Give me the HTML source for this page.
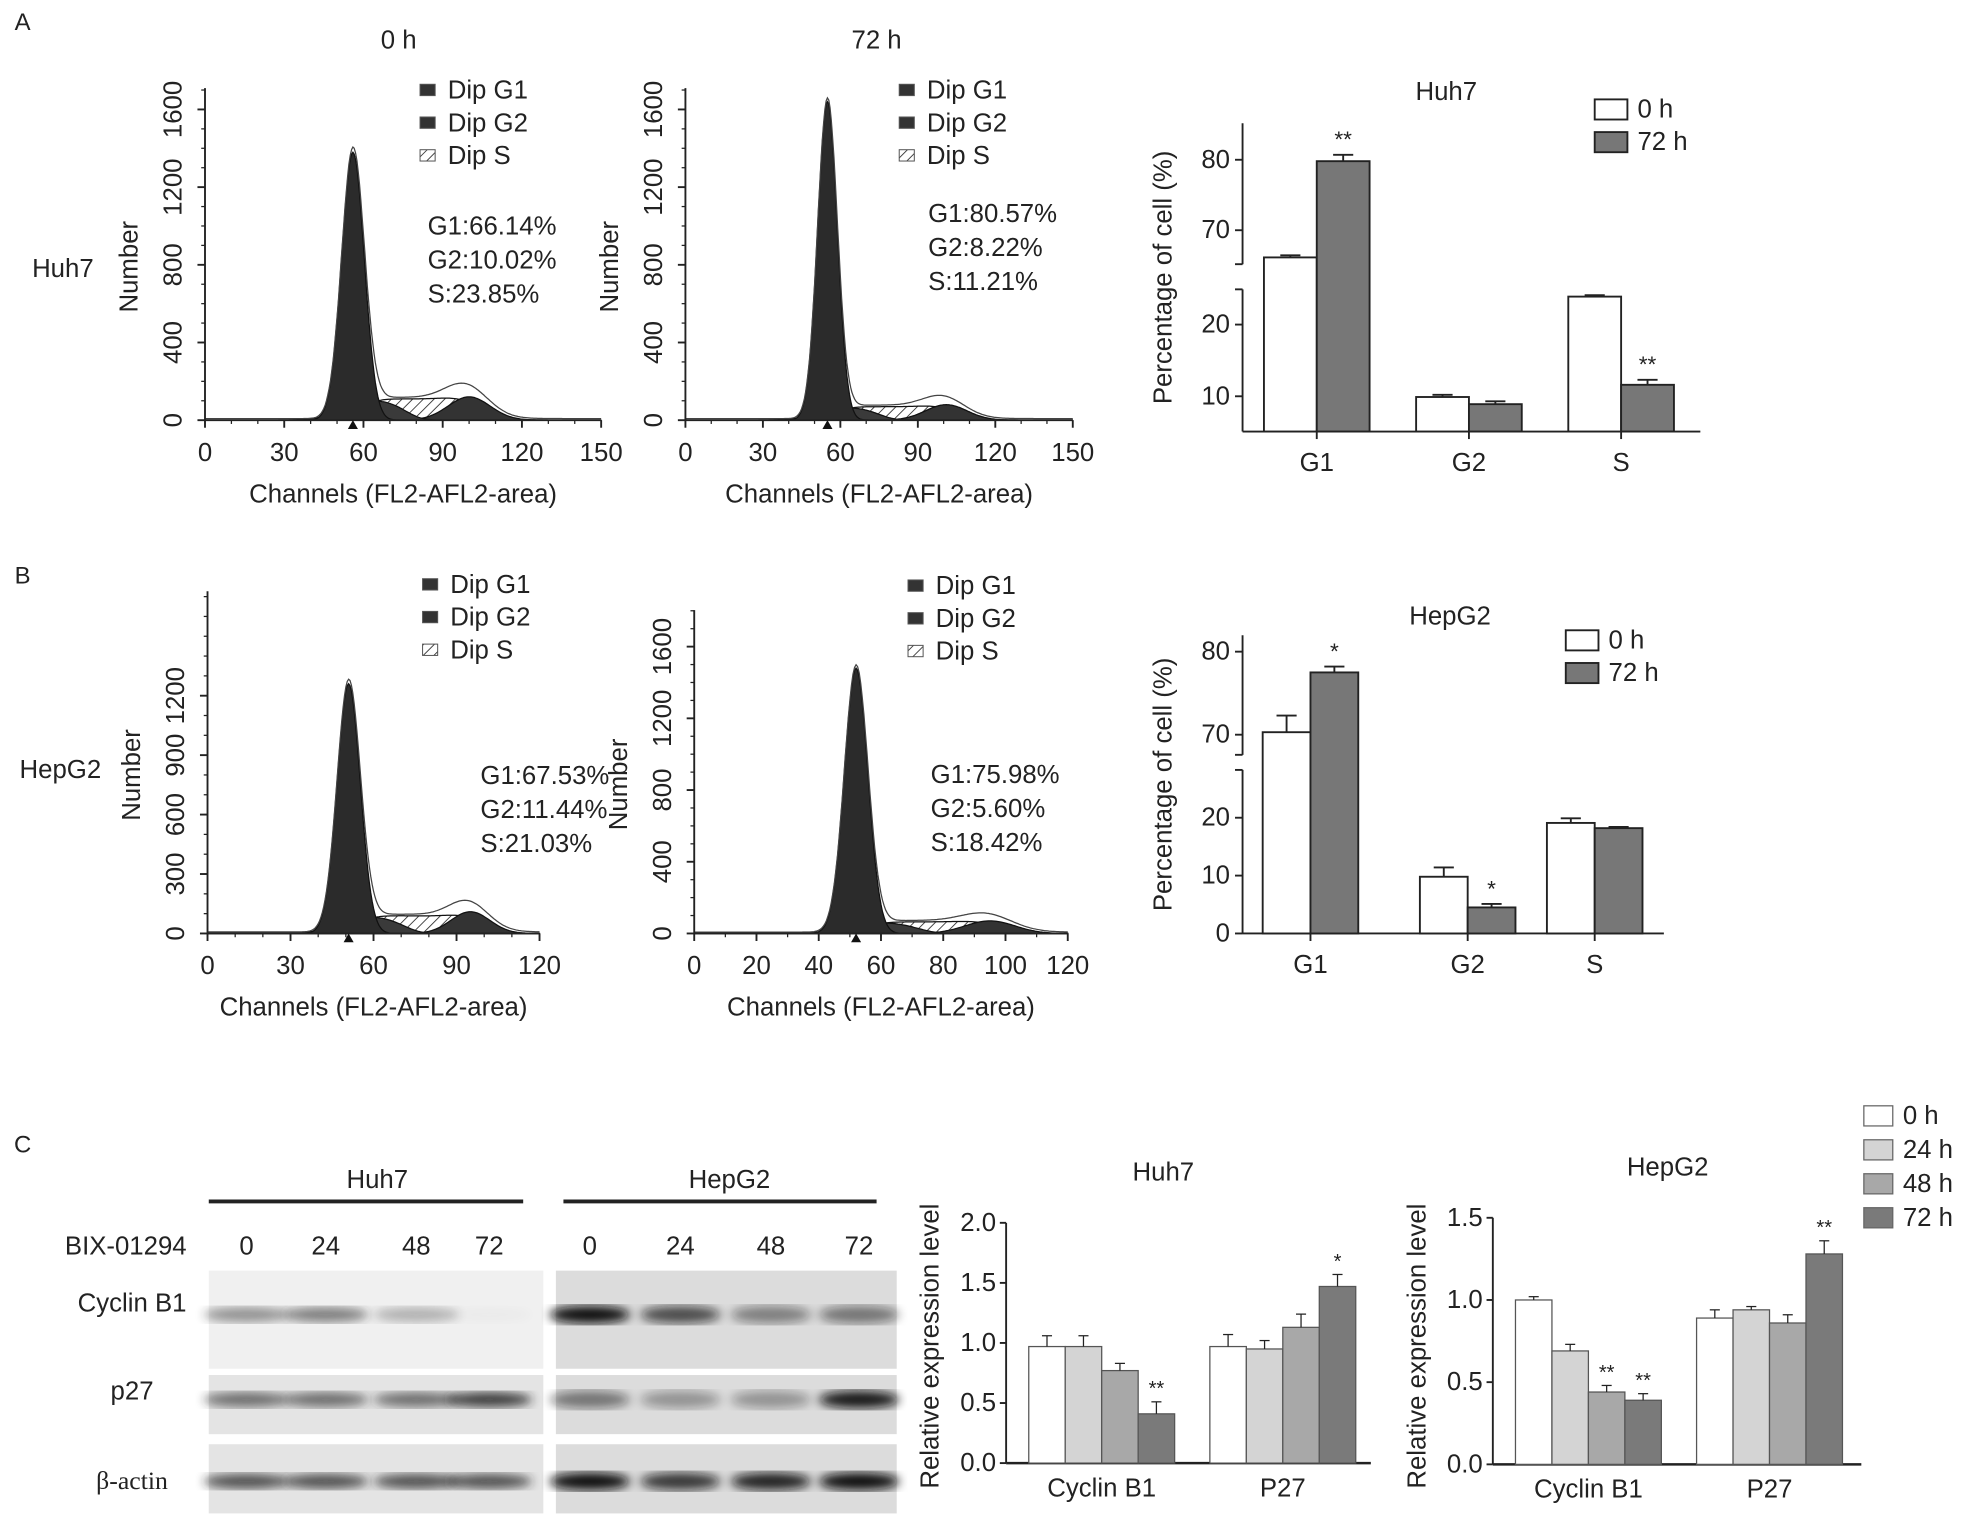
<!DOCTYPE html>
<html><head><meta charset="utf-8"><style>
html,body{margin:0;padding:0;background:#fff}
svg{display:block;font-family:"Liberation Sans",sans-serif}
</style></head><body>
<svg id="fig" width="1972" height="1526" viewBox="0 0 1568 1213" preserveAspectRatio="none" xmlns="http://www.w3.org/2000/svg">
<defs>
<pattern id="hatch" patternUnits="userSpaceOnUse" width="6" height="6" patternTransform="rotate(45)"><rect width="6" height="6" fill="#fff"/><line x1="0" y1="0" x2="0" y2="6" stroke="#333" stroke-width="1.4"/></pattern>
<filter id="blur"><feGaussianBlur stdDeviation="4"/></filter>
</defs>
<g id="root"></g>
</svg>
<script>
// ---------- data ----------
// histogram peaks: [G1 center, G1 height, G1 sd, G2 center, G2 height, G2 sd, S height]
const histA0 = [56, 1380, 4.3, 100, 120, 8, 110];
const histA72 = [55, 1640, 3.8, 101, 80, 8, 70];
const histB0 = [51, 1260, 4.2, 95, 110, 7, 90];
const histB72 = [52, 1480, 3.8, 95, 70, 8, 65];
const phaseCats = ['G1', 'G2', 'S'];
const huhPct0 = [66.14, 9.9, 23.9];
const huhPct72 = [79.8, 8.9, 11.6];
const huhErr0 = [0.3, 0.3, 0.2];
const huhErr72 = [0.9, 0.4, 0.7];
const huhSig = ['', '', ''];
const huhSig72 = ['**', '', '**'];
const hepPct0 = [70.3, 9.8, 19.1];
const hepPct72 = [77.5, 4.5, 18.2];
const hepErr0 = [2.0, 1.6, 0.8];
const hepErr72 = [0.7, 0.6, 0.2];
const hepSig72 = ['*', '*', ''];
const protCats = ['Cyclin B1', 'P27'];
const timeLabels = ['0 h', '24 h', '48 h', '72 h'];
const huhExprCyc = [0.97, 0.97, 0.77, 0.41];
const huhExprP27 = [0.97, 0.95, 1.13, 1.47];
const huhErrCyc = [0.09, 0.09, 0.06, 0.1];
const huhErrP27 = [0.1, 0.07, 0.11, 0.1];
const huhSigCyc = ['', '', '', '**'];
const huhSigP27 = ['', '', '', '*'];
const hepExprCyc = [1.0, 0.69, 0.44, 0.39];
const hepExprP27 = [0.89, 0.94, 0.86, 1.28];
const hepErrCyc = [0.02, 0.04, 0.04, 0.04];
const hepErrP27 = [0.05, 0.02, 0.05, 0.08];
const hepSigCyc = ['', '', '**', '**'];
const hepSigP27 = ['', '', '', '**'];
// ---------- helpers ----------
const NS = 'http://www.w3.org/2000/svg';
const root = document.getElementById('root');
const FS = 20.5;
function mk(tag, attrs, name, parent) {
  const el = document.createElementNS(NS, tag);
  for (const k in attrs) el.setAttribute(k, attrs[k]);
  
  
  (parent || root).appendChild(el);
  return el;
}
function txt(x, y, s, size, name, opts) {
  opts = opts || {};
  const t = mk('text', {x: x, y: y, 'font-size': size, fill: '#222', 'text-anchor': opts.anchor || 'middle', 'dominant-baseline': 'central'}, name);
  if (opts.rot) t.setAttribute('transform', 'rotate(' + opts.rot + ' ' + x + ' ' + y + ')');
  if (opts.family) t.setAttribute('font-family', opts.family);
  t.textContent = s;
  return t;
}
function line(x1, y1, x2, y2, name, w) {
  return mk('line', {x1: x1, y1: y1, x2: x2, y2: y2, stroke: '#222', 'stroke-width': w || 1.5}, name);
}
// panel letters
txt(18, 18, 'A', 19, 'panel-label-a');
txt(18, 458, 'B', 19, 'panel-label-b');
txt(18, 910, 'C', 19, 'panel-label-c');

// ---------- histograms ----------
function gauss(x, c, h, s) { return h * Math.exp(-0.5 * ((x - c) / s) * ((x - c) / s)); }
function sig(z) { return 1 / (1 + Math.exp(-z)); }
function hist(p, o) {
  const xs = v => o.x0 + (v / o.xmax) * (o.x1 - o.x0);
  const ys = v => o.y0 - (v / o.ytop) * (o.y0 - o.y1);
  const g1 = x => gauss(x, p[0], p[1], p[2]);
  const g2 = x => gauss(x, p[3], p[4], p[5]);
  const sp = x => p[6] * sig((x - p[0] - 4) / 2.5) * sig((p[3] - x) / 5);
  const pts = [];
  for (let x = 0; x <= o.xmax; x += 0.5) pts.push(x);
  const area = (f, nm, fill) => {
    let d = 'M' + xs(0) + ',' + ys(0);
    pts.forEach(x => { d += 'L' + xs(x).toFixed(1) + ',' + ys(f(x)).toFixed(1); });
    d += 'L' + xs(o.xmax) + ',' + ys(0) + 'Z';
    mk('path', {d: d, fill: fill, stroke: '#111', 'stroke-width': 1}, nm);
  };
  area(x => sp(x) + g2(x) * 0.3, o.nm + '-s-phase', 'url(#hatch)');
  area(g2, o.nm + '-g2-peak', '#333');
  area(x => gauss(x, p[0] + 9, p[6] * 0.9, 11) * sig((p[0] + 24 - x) / 3), o.nm + '-g1-shoulder', '#3a3a3a');
  area(g1, o.nm + '-g1-peak', '#2b2b2b');
  let d = '';
  pts.forEach((x, i) => { d += (i ? 'L' : 'M') + xs(x).toFixed(1) + ',' + ys(g1(x) + g2(x) + sp(x) + 8).toFixed(1); });
  mk('path', {d: d, fill: 'none', stroke: '#444', 'stroke-width': 1}, o.nm + '-total-outline');
  // axes
  line(o.x0, o.y0, o.x1, o.y0, o.nm + '-x-axis');
  line(o.x0, o.y0, o.x0, o.ytopPx, o.nm + '-y-axis');
  o.xt.forEach(v => { line(xs(v), o.y0, xs(v), o.y0 + 6, o.nm + '-x-tick'); txt(xs(v), o.y0 + 26, String(v), FS, o.nm + '-x-tick-label'); });
  for (let v = 0; v <= o.xmax; v += o.xminor) line(xs(v), o.y0, xs(v), o.y0 + 3, o.nm + '-x-minor-tick', 1);
  o.yt.forEach(v => { line(o.x0 - 6, ys(v), o.x0, ys(v), o.nm + '-y-tick'); txt(o.x0 - 25, ys(v), String(v), FS, o.nm + '-y-tick-label', {rot: -90}); });
  for (let v = 0; ys(v) > o.ytopPx; v += o.yminor) line(o.x0 - 3, ys(v), o.x0, ys(v), o.nm + '-y-minor-tick', 1);
  mk('path', {d: 'M' + (xs(p[0]) - 4) + ',' + (o.y0 + 7) + 'l4,-7l4,7z', fill: '#111'}, o.nm + '-peak-marker');
  txt((o.x0 + o.x1) / 2, o.y0 + 59, 'Channels (FL2-AFL2-area)', FS, o.nm + '-x-axis-title');
  txt(o.x0 - 60, (o.y0 + o.ytopPx) / 2 + 10, 'Number', FS, o.nm + '-y-axis-title', {rot: -90});
  // legend
  const lg = [['Dip G1', '#333'], ['Dip G2', '#333'], ['Dip S', 'url(#hatch)']];
  lg.forEach((e, i) => {
    mk('rect', {x: o.lx, y: o.ly + i * 26 - 5, width: 12, height: 9, fill: e[1], stroke: '#555', 'stroke-width': 0.8}, o.nm + '-legend-swatch');
    txt(o.lx + 22, o.ly + i * 26, e[0], FS, o.nm + '-legend-entry', {anchor: 'start'});
  });
  o.stats.forEach((s, i) => txt(o.sx, o.sy + i * 27, s, FS, o.nm + '-stat-label', {anchor: 'start'}));
}
hist(histA0, {nm: 'hist-huh7-0h', x0: 163, x1: 478, xmax: 150, y0: 334, y1: 87, ytop: 1600, ytopPx: 70, xt: [0, 30, 60, 90, 120, 150], xminor: 10, yt: [0, 400, 800, 1200, 1600], yminor: 100, lx: 334, ly: 72, sx: 340, sy: 180, stats: ['G1:66.14%', 'G2:10.02%', 'S:23.85%']});
hist(histA72, {nm: 'hist-huh7-72h', x0: 545, x1: 853, xmax: 150, y0: 334, y1: 87, ytop: 1600, ytopPx: 70, xt: [0, 30, 60, 90, 120, 150], xminor: 10, yt: [0, 400, 800, 1200, 1600], yminor: 100, lx: 715, ly: 72, sx: 738, sy: 170, stats: ['G1:80.57%', 'G2:8.22%', 'S:11.21%']});
hist(histB0, {nm: 'hist-hepg2-0h', x0: 165, x1: 429, xmax: 120, y0: 742, y1: 553, ytop: 1200, ytopPx: 470, xt: [0, 30, 60, 90, 120], xminor: 10, yt: [0, 300, 600, 900, 1200], yminor: 100, lx: 336, ly: 465, sx: 382, sy: 617, stats: ['G1:67.53%', 'G2:11.44%', 'S:21.03%']});
hist(histB72, {nm: 'hist-hepg2-72h', x0: 552, x1: 849, xmax: 120, y0: 742, y1: 514, ytop: 1600, ytopPx: 485, xt: [0, 20, 40, 60, 80, 100, 120], xminor: 10, yt: [0, 400, 800, 1200, 1600], yminor: 100, lx: 722, ly: 466, sx: 740, sy: 616, stats: ['G1:75.98%', 'G2:5.60%', 'S:18.42%']});
txt(317, 32, '0 h', FS, 'column-title-0h');
txt(697, 32, '72 h', FS, 'column-title-72h');
txt(50, 214, 'Huh7', FS, 'row-label-huh7');
txt(48, 612, 'HepG2', FS, 'row-label-hepg2');

// ---------- split-axis bar charts ----------
function splitBars(o) {
  const ys = v => v >= 50 ? o.uy70 - (v - 70) * o.uk : o.ly10 - (v - 10) * o.lk;
  line(o.ax, o.y0, o.ax + o.w, o.y0, o.nm + '-x-axis');
  line(o.ax, o.y0, o.ax, o.brkLo, o.nm + '-y-axis-lower');
  line(o.ax, o.brkHi, o.ax, o.top, o.nm + '-y-axis-upper');
  line(o.ax - 6, o.brkLo, o.ax, o.brkLo, o.nm + '-break-mark');
  line(o.ax - 6, o.brkHi, o.ax, o.brkHi, o.nm + '-break-mark');
  o.yt.forEach(v => { line(o.ax - 6, ys(v), o.ax, ys(v), o.nm + '-y-tick'); txt(o.ax - 10, ys(v), String(v), FS, o.nm + '-y-tick-label', {anchor: 'end'}); });
  phaseCats.forEach((c, i) => {
    const cx = o.cx[i];
    [[o.v0, o.e0, '#fff', 0, o.s0], [o.v1, o.e1, '#777', 1, o.s1]].forEach(s => {
      const x = s[3] ? cx : cx - o.bw;
      const y = ys(s[0][i]);
      mk('rect', {x: x, y: y, width: o.bw, height: o.y0 - y, fill: s[2], stroke: '#222', 'stroke-width': 1.5}, o.nm + '-bar-' + c + (s[3] ? '-72h' : '-0h'));
      const ye = ys(s[0][i] + s[1][i]);
      line(x + o.bw / 2, y, x + o.bw / 2, ye, o.nm + '-error-bar');
      line(x + o.bw / 2 - 8, ye, x + o.bw / 2 + 8, ye, o.nm + '-error-cap');
      if (s[4][i]) txt(x + o.bw / 2, ye - 12, s[4][i], 18, o.nm + '-significance');
    });
    line(cx, o.y0, cx, o.y0 + 6, o.nm + '-x-tick');
    txt(cx, o.y0 + 25, c, FS, o.nm + '-x-tick-label');
  });
  txt(o.ax - 63, (o.y0 + o.top) / 2, 'Percentage of cell (%)', FS, o.nm + '-y-axis-title', {rot: -90});
  txt(o.tx, o.ty, o.title, FS, o.nm + '-title');
  [['0 h', '#fff'], ['72 h', '#777']].forEach((e, i) => {
    mk('rect', {x: o.lx, y: o.ly + i * 26 - 8, width: 26, height: 16, fill: e[1], stroke: '#222', 'stroke-width': 1.5}, o.nm + '-legend-swatch');
    txt(o.lx + 34, o.ly + i * 26, e[0], FS, o.nm + '-legend-entry', {anchor: 'start'});
  });
}
splitBars({nm: 'bar-huh7-phase', ax: 988, w: 364, y0: 343, top: 98, uy70: 183, uk: 5.6, ly10: 315, lk: 5.7, brkHi: 210, brkLo: 230, yt: [80, 70, 20, 10], cx: [1047, 1168, 1289], bw: 42, v0: huhPct0, v1: huhPct72, e0: huhErr0, e1: huhErr72, s0: huhSig, s1: huhSig72, title: 'Huh7', tx: 1150, ty: 73, lx: 1268, ly: 87});
splitBars({nm: 'bar-hepg2-phase', ax: 988, w: 335, y0: 742, top: 505, uy70: 584, uk: 6.6, ly10: 696, lk: 4.6, brkHi: 600, brkLo: 612, yt: [80, 70, 20, 10, 0], cx: [1042, 1167, 1268], bw: 38, v0: hepPct0, v1: hepPct72, e0: hepErr0, e1: hepErr72, s0: ['', '', ''], s1: hepSig72, title: 'HepG2', tx: 1153, ty: 490, lx: 1245, ly: 509});

// ---------- western blots ----------
txt(300, 938, 'Huh7', FS, 'blot-header-huh7');
txt(580, 938, 'HepG2', FS, 'blot-header-hepg2');
line(166, 955, 416, 955, 'blot-header-line-huh7', 3);
line(448, 955, 697, 955, 'blot-header-line-hepg2', 3);
txt(100, 991, 'BIX-01294', FS, 'treatment-label');
const lanes = ['0', '24', '48', '72'];
const laneHuh = [196, 259, 331, 389];
const laneHep = [469, 541, 613, 683];
lanes.forEach((l, i) => { txt(laneHuh[i], 991, l, FS, 'lane-label-huh7'); txt(laneHep[i], 991, l, FS, 'lane-label-hepg2'); });
const rows = [['Cyclin B1', 1010, 1088, 1036], ['p27', 1093, 1140, 1106], ['β-actin', 1148, 1203, 1177]];
const bandHuh = [[0.45, 0.55, 0.3, 0.02], [0.6, 0.6, 0.6, 0.85], [0.75, 0.75, 0.75, 0.75]];
const bandHep = [[1.0, 0.7, 0.45, 0.5], [0.5, 0.35, 0.35, 0.95], [1.0, 0.8, 0.9, 1.0]];
rows.forEach((r, ri) => {
  txt(105, r[3], r[0], FS, 'blot-row-label', ri === 2 ? {family: '"Liberation Serif", serif'} : {});
  mk('rect', {x: 166, y: r[1], width: 266, height: r[2] - r[1], fill: ri === 0 ? '#f0f0f0' : '#e4e4e4'}, 'blot-membrane-huh7');
  mk('rect', {x: 442, y: r[1], width: 271, height: r[2] - r[1], fill: '#dcdcdc'}, 'blot-membrane-hepg2');
  lanes.forEach((l, i) => {
    const ay = (r[1] + r[2]) / 2 + (ri === 2 ? 2 : -4);
    mk('ellipse', {cx: laneHuh[i], cy: ay, rx: 34, ry: 6, fill: '#222', opacity: bandHuh[ri][i], filter: 'url(#blur)'}, 'blot-band-huh7');
    mk('ellipse', {cx: laneHep[i], cy: ay, rx: 32, ry: 7, fill: '#111', opacity: bandHep[ri][i], filter: 'url(#blur)'}, 'blot-band-hepg2');
  });
});

// ---------- expression bar charts ----------
const grays = ['#fff', '#d4d4d4', '#a8a8a8', '#7a7a7a'];
function exprBars(o) {
  const ys = v => o.y0 - (v / o.ymax) * (o.y0 - o.ytopPx);
  line(o.ax, o.y0, o.ax + o.w, o.y0, o.nm + '-x-axis', 2);
  line(o.ax, o.y0, o.ax, o.ytopPx, o.nm + '-y-axis');
  o.yt.forEach(v => { line(o.ax - 5, ys(v), o.ax, ys(v), o.nm + '-y-tick'); txt(o.ax - 8, ys(v), v.toFixed(1), FS, o.nm + '-y-tick-label', {anchor: 'end'}); });
  [[o.v0, o.e0, o.s0], [o.v1, o.e1, o.s1]].forEach((g, gi) => {
    g[0].forEach((v, i) => {
      const x = o.gx[gi] + i * o.bw;
      const y = ys(v);
      mk('rect', {x: x, y: y, width: o.bw, height: o.y0 - y, fill: grays[i], stroke: '#555', 'stroke-width': 1}, o.nm + '-bar-' + protCats[gi].replace(' ', '') + '-' + timeLabels[i].replace(' ', ''));
      const ye = ys(v + g[1][i]);
      line(x + o.bw / 2, y, x + o.bw / 2, ye, o.nm + '-error-bar', 1);
      line(x + o.bw / 2 - 4, ye, x + o.bw / 2 + 4, ye, o.nm + '-error-cap', 1);
      if (g[2][i]) txt(x + o.bw / 2, ye - 10, g[2][i], 16, o.nm + '-significance');
    });
    txt(o.gx[gi] + 2 * o.bw, o.y0 + 20, protCats[gi], FS, o.nm + '-x-tick-label');
  });
  txt(o.ax - 60, o.ycap, 'Relative expression level', FS, o.nm + '-y-axis-title', {rot: -90});
  txt(o.tx, o.ty, o.title, FS, o.nm + '-title');
}
exprBars({nm: 'bar-huh7-expr', ax: 800, w: 290, y0: 1163, ytopPx: 972, ymax: 2.0, yt: [0, 0.5, 1.0, 1.5, 2.0], gx: [818, 962], bw: 29, v0: huhExprCyc, v1: huhExprP27, e0: huhErrCyc, e1: huhErrP27, s0: huhSigCyc, s1: huhSigP27, title: 'Huh7', tx: 925, ty: 932, ycap: 1070});
exprBars({nm: 'bar-hepg2-expr', ax: 1187, w: 293, y0: 1164, ytopPx: 968, ymax: 1.5, yt: [0, 0.5, 1.0, 1.5], gx: [1205, 1349], bw: 29, v0: hepExprCyc, v1: hepExprP27, e0: hepErrCyc, e1: hepErrP27, s0: hepSigCyc, s1: hepSigP27, title: 'HepG2', tx: 1326, ty: 928, ycap: 1070});
timeLabels.forEach((l, i) => {
  mk('rect', {x: 1482, y: 887 + i * 27 - 8, width: 23, height: 16, fill: grays[i], stroke: '#666', 'stroke-width': 1}, 'expr-legend-swatch');
  txt(1513, 887 + i * 27, l, FS, 'expr-legend-entry', {anchor: 'start'});
});
</script>
</body></html>
